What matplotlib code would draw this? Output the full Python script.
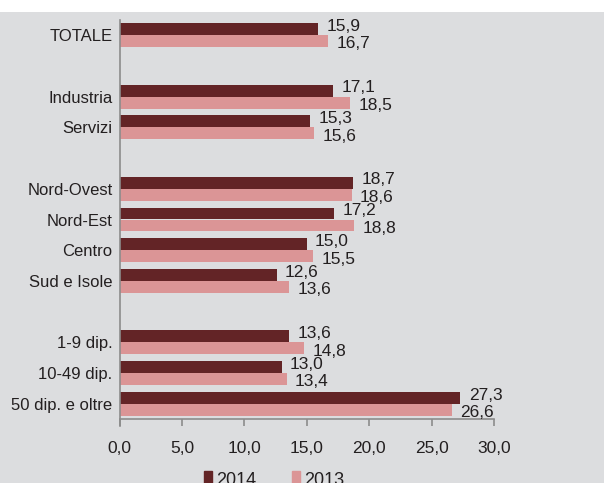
import numpy as np
import matplotlib.pyplot as plt
from matplotlib.patches import Rectangle, Patch

# data (blank strings = gaps between groups)
categorie = ["TOTALE", "", "Industria", "Servizi", "", "Nord-Ovest", "Nord-Est",
             "Centro", "Sud e Isole", "", "1-9 dip.", "10-49 dip.", "50 dip. e oltre"]
val_2014 = [15.9, None, 17.1, 15.3, None, 18.7, 17.2, 15.0, 12.6, None, 13.6, 13.0, 27.3]
val_2013 = [16.7, None, 18.5, 15.6, None, 18.6, 18.8, 15.5, 13.6, None, 14.8, 13.4, 26.6]
xticks = [0, 5, 10, 15, 20, 25, 30]

col_2014 = "#632426"
col_2013 = "#db9596"
bg = "#dcdddf"
txt = "#231f20"

plt.rcParams['font.family'] = ['Liberation Sans', 'DejaVu Sans']
fs = 12

fig = plt.figure(figsize=(6.04, 4.83), dpi=100, facecolor=bg)
# white strip at the top of the picture
fig.patches.append(Rectangle((0, 1 - 12 / 483), 1, 12 / 483, transform=fig.transFigure,
                             facecolor="white", edgecolor="none", zorder=-1))
ax = fig.add_axes([119.5 / 604, 1 - 419 / 483, (494 - 119.5) / 604, (419 - 20) / 483])
ax.set_facecolor(bg)

h = 0.39
pos = np.arange(len(categorie))
for i in range(len(categorie)):
    if val_2014[i] is None:
        continue
    ax.barh(pos[i] - h / 2, val_2014[i], height=h, color=col_2014)
    ax.barh(pos[i] + h / 2, val_2013[i], height=h, color=col_2013)
    ax.annotate(f"{val_2014[i]:.1f}".replace(".", ","), (val_2014[i], pos[i] - h / 2),
                xytext=(6, 2), textcoords="offset points", va="center", ha="left",
                fontsize=fs + 0.5, color=txt)
    ax.annotate(f"{val_2013[i]:.1f}".replace(".", ","), (val_2013[i], pos[i] + h / 2),
                xytext=(6, -2), textcoords="offset points", va="center", ha="left",
                fontsize=fs + 0.5, color=txt)

ax.set_xlim(0, 30)
ax.set_ylim(12.49, -0.49)
ax.set_xticks(xticks)
ax.set_xticklabels([f"{t:.1f}".replace(".", ",") for t in xticks], fontsize=fs + 0.5, color=txt)
ax.set_yticks(pos)
ax.set_yticklabels(categorie, fontsize=fs, color=txt)
ax.tick_params(axis="y", length=0, pad=5)
ax.tick_params(axis="x", length=5, width=1.2, color="#8c8c8c", pad=11)

for s in ["top", "right"]:
    ax.spines[s].set_visible(False)
ax.spines["left"].set_color("#8c8c8c")
ax.spines["bottom"].set_color("#8c8c8c")
ax.spines["left"].set_linewidth(1.2)
ax.spines["bottom"].set_linewidth(1.2)
ax.spines["left"].set_bounds(12.72, -0.49)

handles = [Patch(color=col_2014, label="2014"), Patch(color=col_2013, label="2013")]
fig.legend(handles=handles, loc="center", bbox_to_anchor=(0.454, 0.006), ncol=2,
           frameon=False, fontsize=fs + 1, handlelength=0.45, handleheight=1.0,
           handletextpad=0.2, columnspacing=2.0, labelcolor=txt)

fig.savefig("out.png", dpi=100, facecolor=bg)
